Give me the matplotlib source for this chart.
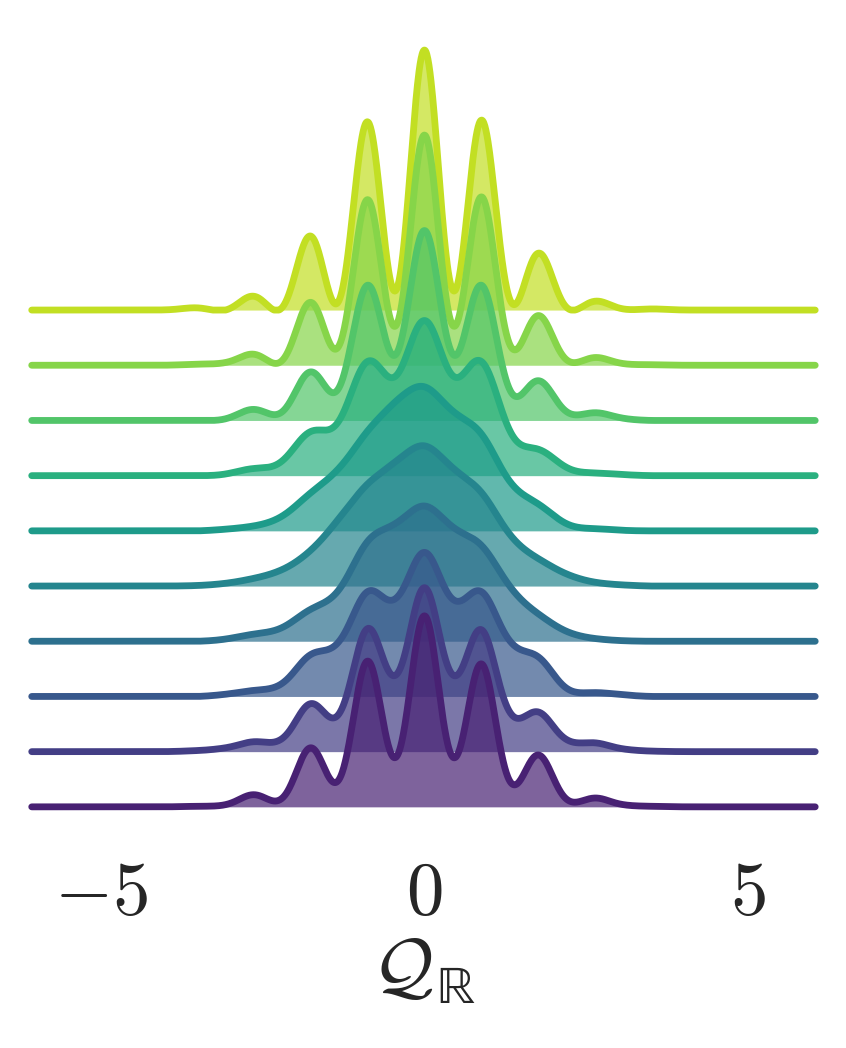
import numpy as np
import matplotlib.pyplot as plt

plt.rcParams['mathtext.fontset'] = 'cm'

# curve heights (in row spacings) read at these Q positions, bottom row first
q_points = [-3.52, -3.08, -2.64, -2.2, -1.76, -1.32, -0.88, -0.44, 0.0,
            0.44, 0.88, 1.32, 1.76, 2.2, 2.64, 3.08, 3.52]

row0 = [0.01, 0.04, 0.22, 0.16, 1.07, 0.50, 2.64, 0.90, 3.46, 0.90, 2.59, 0.47, 0.94, 0.14, 0.16, 0.04, 0.01]
row1 = [0.02, 0.07, 0.18, 0.24, 0.87, 0.69, 2.23, 1.39, 2.97, 1.39, 2.21, 0.72, 0.72, 0.22, 0.16, 0.05, 0.01]
row2 = [0.00, 0.04, 0.11, 0.24, 0.76, 1.00, 1.90, 1.78, 2.61, 1.76, 1.90, 1.01, 0.72, 0.15, 0.07, 0.03, 0.00]
row3 = [0.00, 0.04, 0.13, 0.25, 0.58, 0.94, 1.81, 2.14, 2.45, 2.07, 1.74, 1.00, 0.50, 0.18, 0.05, 0.01, 0.00]
row4 = [0.01, 0.05, 0.14, 0.30, 0.65, 1.23, 1.85, 2.26, 2.54, 2.14, 1.70, 0.94, 0.50, 0.22, 0.07, 0.02, 0.00]
row5 = [0.00, 0.03, 0.09, 0.27, 0.69, 1.14, 1.81, 2.35, 2.61, 2.17, 1.76, 0.90, 0.49, 0.13, 0.04, 0.01, 0.00]
row6 = [0.00, 0.03, 0.13, 0.27, 0.80, 1.00, 2.07, 1.81, 2.81, 1.81, 2.07, 0.82, 0.48, 0.15, 0.05, 0.02, 0.00]
row7 = [0.00, 0.03, 0.20, 0.16, 0.88, 0.60, 2.45, 1.20, 3.44, 1.20, 2.45, 0.56, 0.72, 0.16, 0.14, 0.04, 0.00]
row8 = [0.02, 0.05, 0.20, 0.09, 1.14, 0.36, 3.00, 0.72, 4.17, 0.72, 3.05, 0.38, 0.90, 0.10, 0.14, 0.03, 0.01]
row9 = [0.04, 0.00, 0.25, 0.05, 1.34, 0.18, 3.41, 0.36, 4.71, 0.36, 3.44, 0.20, 1.03, 0.05, 0.16, 0.02, 0.02]

rows = [row0, row1, row2, row3, row4, row5, row6, row7, row8, row9]
# kde bandwidth of each row
bandwidths = [0.22, 0.23, 0.25, 0.28, 0.28, 0.28, 0.28, 0.24, 0.22, 0.22]

xticks = [-5, 0, 5]
xticklabels = [r'$-5$', r'$0$', r'$5$']


def smooth_curve(heights, bw, x):
    c = np.array(q_points)
    G = np.exp(-(c[:, None] - c[None, :]) ** 2 / (2 * bw ** 2))
    w = np.linalg.solve(G, np.array(heights))
    y = np.exp(-(x[:, None] - c[None, :]) ** 2 / (2 * bw ** 2)) @ w
    return np.clip(y, 0, None)


x = np.linspace(-6.08, 6.05, 1500)
colors = plt.cm.viridis(np.linspace(0, 1, len(rows) + 2)[1:-1])

fig = plt.figure(figsize=(8.46, 10.48), dpi=100)
ax = fig.add_axes([0.0207, 0.1985, 0.962, 0.769])

for i, (h, bw) in enumerate(zip(rows, bandwidths)):
    y = smooth_curve(h, bw, x)
    z = 2 * (len(rows) - i)
    ax.fill_between(x, i, i + y, color=colors[i], alpha=0.7, lw=0, zorder=z)
    ax.plot(x, i + y, color=colors[i], lw=4.9, solid_capstyle='round', zorder=z + 1)

ax.set_xlim(-6.3, 6.3)
ax.set_ylim(-0.6, 14.0)
ax.set_yticks([])
ax.set_xticks(xticks)
ax.set_xticklabels(xticklabels, fontsize=54)
ax.tick_params(axis='x', length=0, pad=12, colors='#262626')
ax.set_xlabel(r'$\mathcal{Q}_{\mathrm{ℝ}}$', fontsize=54, color='#262626', labelpad=3)
for s in ax.spines.values():
    s.set_visible(False)

fig.savefig('out.png', dpi=100)
